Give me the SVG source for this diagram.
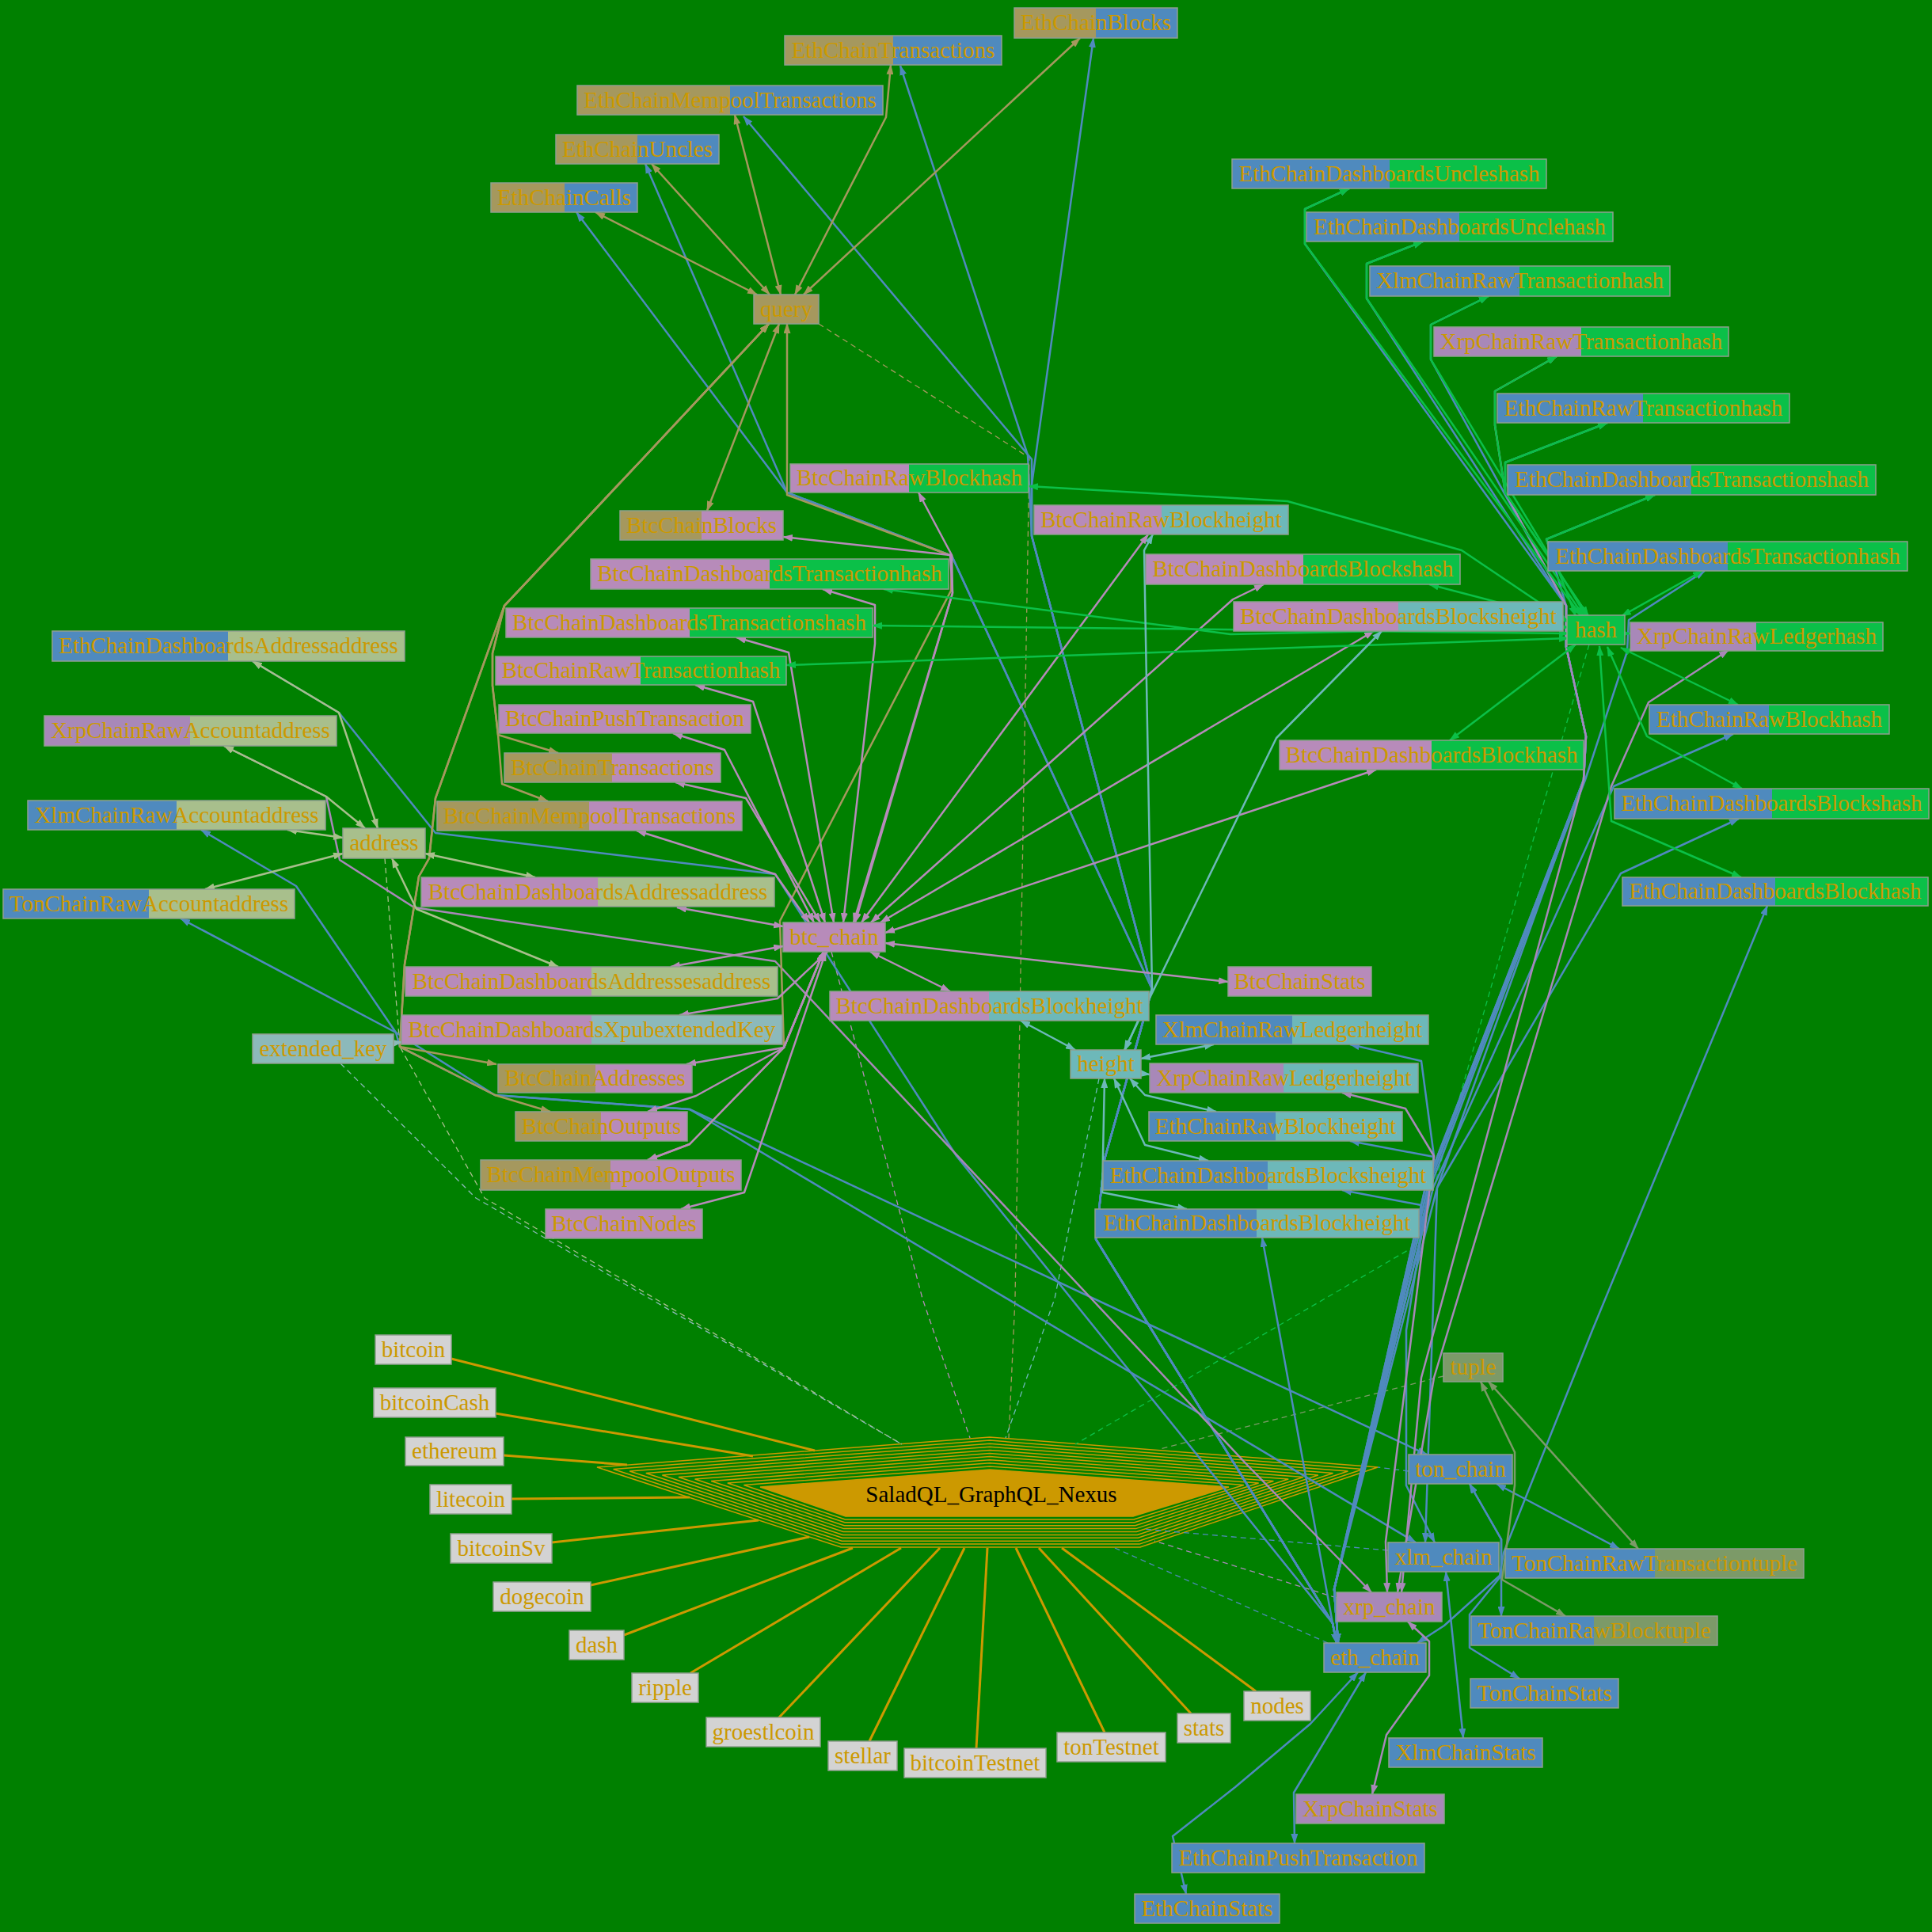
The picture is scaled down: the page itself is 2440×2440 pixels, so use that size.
<svg xmlns="http://www.w3.org/2000/svg" width="2440" height="2440" viewBox="0 0 2440 2440">
<defs>
<style>
.n text{font-family:"Liberation Serif","Times New Roman",serif;font-size:29px;fill:#CC9900;text-anchor:middle}
.n rect{stroke:#8f9f8f;stroke-width:1.5}
.hx text{font-family:"Liberation Serif","Times New Roman",serif;font-size:29px;fill:#000;text-anchor:middle}
.hx polygon{fill:none;stroke:#CC9900;stroke-width:1.5}
.hx polygon.core{fill:#CC9900}
.e path{fill:none;stroke-width:2.5;stroke-linejoin:round}
.tan{stroke:#A5985E;marker-start:url(#a-tan);marker-end:url(#a-tan)}
.blu{stroke:#4F8ABE;marker-start:url(#a-blu);marker-end:url(#a-blu)}
.btc{stroke:#B78BBA;marker-start:url(#a-btc);marker-end:url(#a-btc)}
.xrp{stroke:#A888B8;marker-start:url(#a-xrp);marker-end:url(#a-xrp)}
.grn{stroke:#0BC048;marker-start:url(#a-grn);marker-end:url(#a-grn)}
.tea{stroke:#6DB8B9;marker-start:url(#a-tea);marker-end:url(#a-tea)}
.adr{stroke:#A8BF8C;marker-start:url(#a-adr);marker-end:url(#a-adr)}
.xky{stroke:#8CB9BA;marker-start:url(#a-xky);marker-end:url(#a-xky)}
.tup{stroke:#7C9A68;marker-start:url(#a-tup);marker-end:url(#a-tup)}
.e path.one{marker-start:none}
.e path.d{stroke-width:1.3;stroke-dasharray:7 5;marker-start:none;marker-end:none}
.e path.lf{stroke:#CC9900;stroke-width:3;marker-start:none;marker-end:none}
</style>
<marker id="a-tan" viewBox="0 0 13 9" refX="12" refY="4.5" markerWidth="13" markerHeight="9" markerUnits="userSpaceOnUse" orient="auto-start-reverse"><path d="M0,0L13,4.5L0,9z" fill="#A5985E"/></marker>
<marker id="a-blu" viewBox="0 0 13 9" refX="12" refY="4.5" markerWidth="13" markerHeight="9" markerUnits="userSpaceOnUse" orient="auto-start-reverse"><path d="M0,0L13,4.5L0,9z" fill="#4F8ABE"/></marker>
<marker id="a-btc" viewBox="0 0 13 9" refX="12" refY="4.5" markerWidth="13" markerHeight="9" markerUnits="userSpaceOnUse" orient="auto-start-reverse"><path d="M0,0L13,4.5L0,9z" fill="#B78BBA"/></marker>
<marker id="a-xrp" viewBox="0 0 13 9" refX="12" refY="4.5" markerWidth="13" markerHeight="9" markerUnits="userSpaceOnUse" orient="auto-start-reverse"><path d="M0,0L13,4.5L0,9z" fill="#A888B8"/></marker>
<marker id="a-grn" viewBox="0 0 13 9" refX="12" refY="4.5" markerWidth="13" markerHeight="9" markerUnits="userSpaceOnUse" orient="auto-start-reverse"><path d="M0,0L13,4.5L0,9z" fill="#0BC048"/></marker>
<marker id="a-tea" viewBox="0 0 13 9" refX="12" refY="4.5" markerWidth="13" markerHeight="9" markerUnits="userSpaceOnUse" orient="auto-start-reverse"><path d="M0,0L13,4.5L0,9z" fill="#6DB8B9"/></marker>
<marker id="a-adr" viewBox="0 0 13 9" refX="12" refY="4.5" markerWidth="13" markerHeight="9" markerUnits="userSpaceOnUse" orient="auto-start-reverse"><path d="M0,0L13,4.5L0,9z" fill="#A8BF8C"/></marker>
<marker id="a-xky" viewBox="0 0 13 9" refX="12" refY="4.5" markerWidth="13" markerHeight="9" markerUnits="userSpaceOnUse" orient="auto-start-reverse"><path d="M0,0L13,4.5L0,9z" fill="#8CB9BA"/></marker>
<marker id="a-tup" viewBox="0 0 13 9" refX="12" refY="4.5" markerWidth="13" markerHeight="9" markerUnits="userSpaceOnUse" orient="auto-start-reverse"><path d="M0,0L13,4.5L0,9z" fill="#7C9A68"/></marker>
<linearGradient id="g-tan-blu"><stop offset="0.5" stop-color="#A5985E"/><stop offset="0.5" stop-color="#4F8ABE"/></linearGradient>
<linearGradient id="g-blu-grn"><stop offset="0.5" stop-color="#4F8ABE"/><stop offset="0.5" stop-color="#0BC048"/></linearGradient>
<linearGradient id="g-btc-grn"><stop offset="0.5" stop-color="#B78BBA"/><stop offset="0.5" stop-color="#0BC048"/></linearGradient>
<linearGradient id="g-xrp-grn"><stop offset="0.5" stop-color="#A888B8"/><stop offset="0.5" stop-color="#0BC048"/></linearGradient>
<linearGradient id="g-btc-tea"><stop offset="0.5" stop-color="#B78BBA"/><stop offset="0.5" stop-color="#6DB8B9"/></linearGradient>
<linearGradient id="g-blu-tea"><stop offset="0.5" stop-color="#4F8ABE"/><stop offset="0.5" stop-color="#6DB8B9"/></linearGradient>
<linearGradient id="g-xrp-tea"><stop offset="0.5" stop-color="#A888B8"/><stop offset="0.5" stop-color="#6DB8B9"/></linearGradient>
<linearGradient id="g-tan-btc"><stop offset="0.5" stop-color="#A5985E"/><stop offset="0.5" stop-color="#B78BBA"/></linearGradient>
<linearGradient id="g-btc-adr"><stop offset="0.5" stop-color="#B78BBA"/><stop offset="0.5" stop-color="#A8BF8C"/></linearGradient>
<linearGradient id="g-btc-xky"><stop offset="0.5" stop-color="#B78BBA"/><stop offset="0.5" stop-color="#8CB9BA"/></linearGradient>
<linearGradient id="g-blu-adr"><stop offset="0.5" stop-color="#4F8ABE"/><stop offset="0.5" stop-color="#A8BF8C"/></linearGradient>
<linearGradient id="g-xrp-adr"><stop offset="0.5" stop-color="#A888B8"/><stop offset="0.5" stop-color="#A8BF8C"/></linearGradient>
<linearGradient id="g-blu-tup"><stop offset="0.5" stop-color="#4F8ABE"/><stop offset="0.5" stop-color="#7C9A68"/></linearGradient>
</defs>
<rect x="0" y="0" width="2440" height="2440" fill="#008000"/>

<g id="SaladQL_GraphQL_Nexus" class="hx">
<polygon points="754,1853 1250,1815 1740,1853 1440,1954 1062,1954"/>
<polygon points="774.6,1855.5 1250,1819.1 1721.2,1855.5 1439.1,1950.1 1062.6,1950.1"/>
<polygon points="795.2,1858 1250,1823.2 1702.4,1858 1438.2,1946.2 1063.2,1946.2"/>
<polygon points="815.8,1860.5 1250,1827.3 1683.6,1860.5 1437.3,1942.3 1063.8,1942.3"/>
<polygon points="836.4,1863 1250,1831.4 1664.8,1863 1436.4,1938.4 1064.4,1938.4"/>
<polygon points="857,1865.5 1250,1835.5 1646,1865.5 1435.5,1934.5 1065,1934.5"/>
<polygon points="877.6,1868 1250,1839.6 1627.2,1868 1434.6,1930.6 1065.6,1930.6"/>
<polygon points="898.2,1870.5 1250,1843.7 1608.4,1870.5 1433.7,1926.7 1066.2,1926.7"/>
<polygon points="918.8,1873 1250,1847.8 1589.6,1873 1432.8,1922.8 1066.8,1922.8"/>
<polygon points="939.4,1875.5 1250,1851.9 1570.8,1875.5 1431.9,1918.9 1067.4,1918.9"/>
<polygon class="core" points="960,1878 1250,1856 1552,1878 1431,1915 1068,1915"/>
<text x="1252" y="1897">SaladQL_GraphQL_Nexus</text>
</g>

<g id="connectors" class="e">
<path class="lf" d="M570,1716L1029,1832"/>
<path class="lf" d="M626,1785L951,1839"/>
<path class="lf" d="M636,1838L792,1850"/>
<path class="lf" d="M646,1893L871,1891"/>
<path class="lf" d="M697,1948L958,1920"/>
<path class="lf" d="M746,2002L1022,1941"/>
<path class="lf" d="M788,2065L1077,1955"/>
<path class="lf" d="M872,2113L1138,1955"/>
<path class="lf" d="M983,2170L1187,1955"/>
<path class="lf" d="M1098,2199L1218,1955"/>
<path class="lf" d="M1233,2208L1247,1955"/>
<path class="lf" d="M1395,2188L1283,1955"/>
<path class="lf" d="M1504,2164L1312,1955"/>
<path class="lf" d="M1586,2136L1341,1955"/>
<path class="d tan" d="M1034,409L1300,578L1282,1640L1274,1816"/>
<path class="d adr" d="M486,1084L505,1322L612,1513L1139,1824"/>
<path class="d xky" d="M430,1343L601,1513L1139,1824"/>
<path class="d btc" d="M1050,1202L1165,1640L1225,1816"/>
<path class="d tea" d="M1388,1362L1332,1640L1270,1816"/>
<path class="d grn" d="M2007,814L1790,1572L1358,1824"/>
<path class="d tup" d="M1823,1738L1465,1830"/>
<path class="d blu" d="M1779,1858L1740,1853"/>
<path class="d blu" d="M1753,1958L1443,1931"/>
<path class="d xrp" d="M1688,2018L1458,1946"/>
<path class="d blu" d="M1688,2080L1408,1955"/>
<path class="blu" d="M728,268L994,622L1202,702L1455,1249L1395,1464L1384,1565L1683,2050L1688,2075"/>
<path class="blu" d="M815,207L994,622L1202,702L1455,1249L1395,1464L1384,1565L1683,2050L1688,2075"/>
<path class="blu" d="M939,147L1303,580L1303,677L1455,1249L1395,1464L1384,1565L1683,2050L1688,2075"/>
<path class="blu" d="M1137,83L1298,575L1303,677L1455,1249L1395,1464L1384,1565L1683,2050L1688,2075"/>
<path class="blu" d="M1381,48L1303,612L1303,677L1455,1249L1395,1464L1384,1565L1683,2050L1688,2075"/>
<path class="blu" d="M1704,238L1648,264L1648,308L1978,765L1978,817L2003,930L2000,985L1800,1500L1685,2007L1690,2075"/>
<path class="blu" d="M1797,305L1726,333L1726,377L1978,765L1978,817L2003,930L2000,985L1800,1500L1685,2007L1690,2075"/>
<path class="blu" d="M2030,534L1901,584L1901,622L1978,765L1978,817L2003,930L2000,985L1803,1500L1685,2007L1690,2075"/>
<path class="blu" d="M2090,625L1953,681L1978,765L1978,817L2003,930L2000,985L1803,1500L1685,2007L1690,2075"/>
<path class="blu" d="M2153,721L2057,783L2055,823L2002,985L1806,1500L1685,2007L1690,2075"/>
<path class="blu" d="M2189,927L2038,993L1810,1500L1685,2007L1690,2075"/>
<path class="blu" d="M2196,1034L2047,1103L1815,1500L1685,2007L1690,2075"/>
<path class="blu" d="M2232,1144L2011,1680L1899,1961L1894,1990L1824,2053L1790,2075"/>
<path class="blu" d="M1705,1441L1811,1461L1795,1560L1685,2007L1690,2075"/>
<path class="blu" d="M1695,1503L1795,1522L1794,1565L1685,2007L1690,2075"/>
<path class="blu" d="M1594,1563L1683,2050L1688,2075"/>
<path class="blu" d="M319,835L428,900L550,1052L979,1104L1208,1460L1683,2050L1688,2075"/>
<path class="blu" d="M1635,2328L1634,2264L1725,2112"/>
<path class="blu" d="M1498,2392L1481,2319L1560,2257L1655,2177L1715,2112"/>
<path class="blu" d="M254,1048L374,1119L500,1304L625,1383L871,1401L1788,1948"/>
<path class="blu" d="M1826,1985L1848,2195"/>
<path class="blu" d="M1705,1319L1795,1340L1811,1460L1776,1680L1776,1876L1812,1948"/>
<path class="blu" d="M1880,374L1807,410L1807,454L1978,765L1978,817L2003,930L2000,985L1815,1500L1800,1948"/>
<path class="blu" d="M1890,1874L2045,1956"/>
<path class="blu" d="M1856,1874L1896,1944L1896,1990L1856,2039L1856,2081L1919,2120"/>
<path class="blu" d="M1856,1874L1896,1944L1896,2041"/>
<path class="blu" d="M228,1160L500,1304L505,1322L625,1383L871,1401L1802,1837"/>
<path class="xrp" d="M283,942L412,1006L429,1086L523,1146L979,1214L1575,1850L1732,2011"/>
<path class="xrp" d="M1778,2048L1805,2073L1805,2116L1751,2191L1733,2266"/>
<path class="xrp" d="M1695,1380L1775,1400L1811,1460L1750,1947L1752,2011"/>
<path class="xrp" d="M2183,821L2082,887L2035,993L1811,1740L1765,2011"/>
<path class="xrp" d="M1966,450L1888,494L1888,537L1901,622L1978,765L1978,817L2003,930L2000,985L1795,1740L1770,2011"/>
<path class="tan" d="M752,268L956,372"/>
<path class="tan" d="M823,207L972,372"/>
<path class="tan" d="M928,145L986,372"/>
<path class="tan" d="M1125,82L1119,148L1004,372"/>
<path class="tan" d="M1364,48L1015,372"/>
<path class="tan" d="M893,645L984,409"/>
<path class="tan" d="M971,409L813,578L637,765L622,825L622,866L629,928L705,951"/>
<path class="tan" d="M971,409L813,578L637,765L622,825L622,866L629,928L634,990L692,1012"/>
<path class="tan" d="M971,409L813,578L637,765L550,1008L542,1084L529,1107L511,1218L505,1322L627,1344"/>
<path class="tan" d="M971,409L813,578L637,765L550,1008L542,1084L529,1107L511,1218L505,1322L625,1383L695,1404"/>
<path class="tan" d="M994,409L994,625L1202,702L1201,746L985,1163L990,1323L871,1445L818,1465"/>
<path class="btc" d="M1160,622L1202,701L1203,749L1080,1165"/>
<path class="btc" d="M989,678L1200,701L1203,749L1078,1165"/>
<path class="btc" d="M1039,744L1105,764L1105,813L1065,1165"/>
<path class="btc" d="M930,805L996,824L1053,1165"/>
<path class="btc" d="M878,865L951,886L1042,1165"/>
<path class="btc" d="M850,926L915,947L1028,1165"/>
<path class="btc" d="M853,988L942,1008L1036,1165"/>
<path class="btc" d="M804,1049L979,1104L1022,1165"/>
<path class="btc" d="M855,1146L989,1170"/>
<path class="btc" d="M847,1221L989,1195"/>
<path class="btc" d="M858,1282L982,1261L1045,1202"/>
<path class="btc" d="M867,1344L990,1323L1040,1202"/>
<path class="btc" d="M818,1404L879,1384L990,1323L1040,1202"/>
<path class="btc" d="M818,1465L871,1445L990,1323L1040,1202"/>
<path class="btc" d="M860,1527L940,1506L1043,1202"/>
<path class="btc" d="M1200,1252L1099,1202"/>
<path class="btc" d="M1551,1240L1118,1191"/>
<path class="btc" d="M1450,675L1088,1165"/>
<path class="btc" d="M1596,738L1557,757L1100,1165"/>
<path class="btc" d="M1735,797L1112,1165"/>
<path class="btc" d="M1738,972L1118,1178"/>
<path class="grn" d="M1704,238L1648,264L1648,308L1997,778"/>
<path class="grn" d="M1797,305L1726,333L1726,377L2000,778"/>
<path class="grn" d="M1880,374L1807,410L1807,454L2003,778"/>
<path class="grn" d="M1966,450L1888,494L1888,537L1901,622L2006,778"/>
<path class="grn" d="M2030,534L1901,584L1901,622L2006,778"/>
<path class="grn" d="M2090,625L1953,681L1990,778"/>
<path class="grn" d="M2150,721L2048,778"/>
<path class="grn one" d="M2046,800L2059,800"/>
<path class="grn" d="M2047,818L2195,890"/>
<path class="grn" d="M2030,817L2080,930L2200,996"/>
<path class="grn" d="M2020,816L2035,1037L2199,1108"/>
<path class="grn" d="M1990,814L1831,935"/>
<path class="grn" d="M1981,784L1805,738"/>
<path class="grn" d="M1299,614L1626,633L1846,695L1981,786"/>
<path class="grn" d="M1116,744L1554,801L1981,792"/>
<path class="grn" d="M1102,790L1981,800"/>
<path class="grn" d="M993,840L1981,806"/>
<path class="tea" d="M1456,675L1445,695L1455,1249L1421,1326"/>
<path class="tea" d="M1745,797L1612,932L1420,1326"/>
<path class="tea" d="M1289,1289L1358,1326"/>
<path class="tea" d="M1533,1319L1441,1337"/>
<path class="tea one" d="M1436,1355L1452,1357"/>
<path class="tea" d="M1536,1404L1446,1383L1427,1362"/>
<path class="tea" d="M1526,1466L1446,1446L1407,1362"/>
<path class="tea" d="M1499,1527L1392,1506L1395,1362"/>
<path class="adr" d="M319,835L428,900L477,1046"/>
<path class="adr" d="M283,942L412,1006L461,1046"/>
<path class="adr" d="M363,1048L433,1058"/>
<path class="adr" d="M259,1123L433,1078"/>
<path class="adr" d="M676,1108L537,1078"/>
<path class="adr" d="M705,1221L526,1148L495,1084"/>
<path class="xky one" d="M492,1318L508,1316"/>
<path class="tup" d="M1880,1745L2069,1956"/>
<path class="tup" d="M1870,1745L1913,1834L1913,1876L1897,1995L1977,2041"/>
</g>

<g id="nodes">
<g id="EthChainBlocks" class="n"><rect x="1281" y="10" width="206" height="38" fill="url(#g-tan-blu)"/><text x="1384" y="38">EthChainBlocks</text></g>
<g id="EthChainTransactions" class="n"><rect x="991" y="45" width="274" height="37" fill="url(#g-tan-blu)"/><text x="1128" y="72.5">EthChainTransactions</text></g>
<g id="EthChainMempoolTransactions" class="n"><rect x="729" y="108" width="386" height="37" fill="url(#g-tan-blu)"/><text x="922" y="135.5">EthChainMempoolTransactions</text></g>
<g id="EthChainUncles" class="n"><rect x="702" y="170" width="206" height="37" fill="url(#g-tan-blu)"/><text x="805" y="197.5">EthChainUncles</text></g>
<g id="EthChainCalls" class="n"><rect x="620" y="231" width="185" height="37" fill="url(#g-tan-blu)"/><text x="712.5" y="258.5">EthChainCalls</text></g>
<g id="query" class="n"><rect x="952" y="372" width="82" height="37" fill="#A5985E"/><text x="993" y="399.5">query</text></g>
<g id="EthChainDashboardsUncleshash" class="n"><rect x="1556" y="201" width="397" height="37" fill="url(#g-blu-grn)"/><text x="1754.5" y="228.5">EthChainDashboardsUncleshash</text></g>
<g id="EthChainDashboardsUnclehash" class="n"><rect x="1650" y="268" width="387" height="37" fill="url(#g-blu-grn)"/><text x="1843.5" y="295.5">EthChainDashboardsUnclehash</text></g>
<g id="XlmChainRawTransactionhash" class="n"><rect x="1730" y="336" width="379" height="38" fill="url(#g-blu-grn)"/><text x="1919.5" y="364">XlmChainRawTransactionhash</text></g>
<g id="XrpChainRawTransactionhash" class="n"><rect x="1811" y="413" width="372" height="37" fill="url(#g-xrp-grn)"/><text x="1997" y="440.5">XrpChainRawTransactionhash</text></g>
<g id="EthChainRawTransactionhash" class="n"><rect x="1891" y="497" width="369" height="37" fill="url(#g-blu-grn)"/><text x="2075.5" y="524.5">EthChainRawTransactionhash</text></g>
<g id="EthChainDashboardsTransactionshash" class="n"><rect x="1904" y="587" width="465" height="38" fill="url(#g-blu-grn)"/><text x="2136.5" y="615">EthChainDashboardsTransactionshash</text></g>
<g id="EthChainDashboardsTransactionhash" class="n"><rect x="1955" y="684" width="454" height="37" fill="url(#g-blu-grn)"/><text x="2182" y="711.5">EthChainDashboardsTransactionhash</text></g>
<g id="hash" class="n"><rect x="1979" y="777" width="73" height="37" fill="#0BC048"/><text x="2015.5" y="804.5">hash</text></g>
<g id="XrpChainRawLedgerhash" class="n"><rect x="2059" y="786" width="319" height="36" fill="url(#g-xrp-grn)"/><text x="2218.5" y="813">XrpChainRawLedgerhash</text></g>
<g id="EthChainRawBlockhash" class="n"><rect x="2083" y="890" width="303" height="37" fill="url(#g-blu-grn)"/><text x="2234.5" y="917.5">EthChainRawBlockhash</text></g>
<g id="EthChainDashboardsBlockshash" class="n"><rect x="2039" y="996" width="397" height="38" fill="url(#g-blu-grn)"/><text x="2237.5" y="1024">EthChainDashboardsBlockshash</text></g>
<g id="EthChainDashboardsBlockhash" class="n"><rect x="2049" y="1108" width="386" height="36" fill="url(#g-blu-grn)"/><text x="2242" y="1135">EthChainDashboardsBlockhash</text></g>
<g id="BtcChainDashboardsBlockshash" class="n"><rect x="1447" y="700" width="397" height="38" fill="url(#g-btc-grn)"/><text x="1645.5" y="728">BtcChainDashboardsBlockshash</text></g>
<g id="BtcChainDashboardsBlocksheight" class="n"><rect x="1558" y="760" width="416" height="37" fill="url(#g-btc-tea)"/><text x="1766" y="787.5">BtcChainDashboardsBlocksheight</text></g>
<g id="BtcChainDashboardsBlockhash" class="n"><rect x="1616" y="935" width="384" height="37" fill="url(#g-btc-grn)"/><text x="1808" y="962.5">BtcChainDashboardsBlockhash</text></g>
<g id="BtcChainStats" class="n"><rect x="1551" y="1221" width="181" height="37" fill="#B78BBA"/><text x="1641.5" y="1248.5">BtcChainStats</text></g>
<g id="XlmChainRawLedgerheight" class="n"><rect x="1460" y="1282" width="344" height="37" fill="url(#g-blu-tea)"/><text x="1632" y="1309.5">XlmChainRawLedgerheight</text></g>
<g id="height" class="n"><rect x="1352" y="1326" width="89" height="36" fill="#6DB8B9"/><text x="1396.5" y="1353">height</text></g>
<g id="XrpChainRawLedgerheight" class="n"><rect x="1452" y="1343" width="339" height="37" fill="url(#g-xrp-tea)"/><text x="1621.5" y="1370.5">XrpChainRawLedgerheight</text></g>
<g id="EthChainRawBlockheight" class="n"><rect x="1451" y="1404" width="320" height="37" fill="url(#g-blu-tea)"/><text x="1611" y="1431.5">EthChainRawBlockheight</text></g>
<g id="EthChainDashboardsBlocksheight" class="n"><rect x="1393" y="1466" width="417" height="37" fill="url(#g-blu-tea)"/><text x="1601.5" y="1493.5">EthChainDashboardsBlocksheight</text></g>
<g id="EthChainDashboardsBlockheight" class="n"><rect x="1383" y="1527" width="409" height="36" fill="url(#g-blu-tea)"/><text x="1587.5" y="1554">EthChainDashboardsBlockheight</text></g>
<g id="BtcChainRawBlockhash" class="n"><rect x="998" y="586" width="301" height="36" fill="url(#g-btc-grn)"/><text x="1148.5" y="613">BtcChainRawBlockhash</text></g>
<g id="BtcChainRawBlockheight" class="n"><rect x="1306" y="638" width="321" height="37" fill="url(#g-btc-tea)"/><text x="1466.5" y="665.5">BtcChainRawBlockheight</text></g>
<g id="BtcChainBlocks" class="n"><rect x="783" y="645" width="206" height="37" fill="url(#g-tan-btc)"/><text x="886" y="672.5">BtcChainBlocks</text></g>
<g id="BtcChainDashboardsTransactionhash" class="n"><rect x="746" y="706" width="452" height="38" fill="url(#g-btc-grn)"/><text x="972" y="734">BtcChainDashboardsTransactionhash</text></g>
<g id="BtcChainDashboardsTransactionshash" class="n"><rect x="639" y="768" width="463" height="37" fill="url(#g-btc-grn)"/><text x="870.5" y="795.5">BtcChainDashboardsTransactionshash</text></g>
<g id="BtcChainRawTransactionhash" class="n"><rect x="626" y="829" width="367" height="36" fill="url(#g-btc-grn)"/><text x="809.5" y="856">BtcChainRawTransactionhash</text></g>
<g id="BtcChainPushTransaction" class="n"><rect x="630" y="890" width="318" height="36" fill="#B78BBA"/><text x="789" y="917">BtcChainPushTransaction</text></g>
<g id="BtcChainTransactions" class="n"><rect x="637" y="951" width="273" height="37" fill="url(#g-tan-btc)"/><text x="773.5" y="978.5">BtcChainTransactions</text></g>
<g id="BtcChainMempoolTransactions" class="n"><rect x="552" y="1012" width="385" height="37" fill="url(#g-tan-btc)"/><text x="744.5" y="1039.5">BtcChainMempoolTransactions</text></g>
<g id="BtcChainDashboardsAddressaddress" class="n"><rect x="532" y="1108" width="446" height="37" fill="url(#g-btc-adr)"/><text x="755" y="1135.5">BtcChainDashboardsAddressaddress</text></g>
<g id="btc_chain" class="n"><rect x="989" y="1165" width="129" height="37" fill="#B78BBA"/><text x="1053.5" y="1192.5">btc_chain</text></g>
<g id="BtcChainDashboardsAddressesaddress" class="n"><rect x="512" y="1221" width="470" height="37" fill="url(#g-btc-adr)"/><text x="747" y="1248.5">BtcChainDashboardsAddressesaddress</text></g>
<g id="BtcChainDashboardsXpubextendedKey" class="n"><rect x="507" y="1282" width="481" height="37" fill="url(#g-btc-xky)"/><text x="747.5" y="1309.5">BtcChainDashboardsXpubextendedKey</text></g>
<g id="BtcChainAddresses" class="n"><rect x="629" y="1344" width="245" height="36" fill="url(#g-tan-btc)"/><text x="751.5" y="1371">BtcChainAddresses</text></g>
<g id="BtcChainOutputs" class="n"><rect x="651" y="1404" width="217" height="37" fill="url(#g-tan-btc)"/><text x="759.5" y="1431.5">BtcChainOutputs</text></g>
<g id="BtcChainMempoolOutputs" class="n"><rect x="607" y="1465" width="329" height="38" fill="url(#g-tan-btc)"/><text x="771.5" y="1493">BtcChainMempoolOutputs</text></g>
<g id="BtcChainNodes" class="n"><rect x="689" y="1527" width="198" height="37" fill="#B78BBA"/><text x="788" y="1554.5">BtcChainNodes</text></g>
<g id="BtcChainDashboardsBlockheight" class="n"><rect x="1048" y="1252" width="403" height="37" fill="url(#g-btc-tea)"/><text x="1249.5" y="1279.5">BtcChainDashboardsBlockheight</text></g>
<g id="EthChainDashboardsAddressaddress" class="n"><rect x="66" y="797" width="445" height="38" fill="url(#g-blu-adr)"/><text x="288.5" y="825">EthChainDashboardsAddressaddress</text></g>
<g id="XrpChainRawAccountaddress" class="n"><rect x="56" y="904" width="369" height="38" fill="url(#g-xrp-adr)"/><text x="240.5" y="932">XrpChainRawAccountaddress</text></g>
<g id="XlmChainRawAccountaddress" class="n"><rect x="35" y="1011" width="376" height="37" fill="url(#g-blu-adr)"/><text x="223" y="1038.5">XlmChainRawAccountaddress</text></g>
<g id="address" class="n"><rect x="433" y="1046" width="104" height="38" fill="#A8BF8C"/><text x="485" y="1074">address</text></g>
<g id="TonChainRawAccountaddress" class="n"><rect x="4" y="1123" width="368" height="37" fill="url(#g-blu-adr)"/><text x="188" y="1150.5">TonChainRawAccountaddress</text></g>
<g id="extended_key" class="n"><rect x="319" y="1306" width="178" height="37" fill="#8CB9BA"/><text x="408" y="1333.5">extended_key</text></g>
<g id="tuple" class="n"><rect x="1823" y="1709" width="75" height="36" fill="#7C9A68"/><text x="1860.5" y="1736">tuple</text></g>
<g id="ton_chain" class="n"><rect x="1779" y="1837" width="131" height="37" fill="#4F8ABE"/><text x="1844.5" y="1864.5">ton_chain</text></g>
<g id="xlm_chain" class="n"><rect x="1753" y="1948" width="140" height="37" fill="#4F8ABE"/><text x="1823" y="1975.5">xlm_chain</text></g>
<g id="TonChainRawTransactiontuple" class="n"><rect x="1901" y="1956" width="377" height="37" fill="url(#g-blu-tup)"/><text x="2089.5" y="1983.5">TonChainRawTransactiontuple</text></g>
<g id="xrp_chain" class="n"><rect x="1688" y="2011" width="133" height="37" fill="#A888B8"/><text x="1754.5" y="2038.5">xrp_chain</text></g>
<g id="eth_chain" class="n"><rect x="1672" y="2075" width="129" height="37" fill="#4F8ABE"/><text x="1736.5" y="2102.5">eth_chain</text></g>
<g id="TonChainRawBlocktuple" class="n"><rect x="1858" y="2041" width="311" height="37" fill="url(#g-blu-tup)"/><text x="2013.5" y="2068.5">TonChainRawBlocktuple</text></g>
<g id="TonChainStats" class="n"><rect x="1857" y="2120" width="187" height="37" fill="#4F8ABE"/><text x="1950.5" y="2147.5">TonChainStats</text></g>
<g id="XlmChainStats" class="n"><rect x="1754" y="2195" width="194" height="37" fill="#4F8ABE"/><text x="1851" y="2222.5">XlmChainStats</text></g>
<g id="XrpChainStats" class="n"><rect x="1637" y="2266" width="187" height="37" fill="#A888B8"/><text x="1730.5" y="2293.5">XrpChainStats</text></g>
<g id="EthChainPushTransaction" class="n"><rect x="1480" y="2328" width="319" height="37" fill="#4F8ABE"/><text x="1639.5" y="2355.5">EthChainPushTransaction</text></g>
<g id="EthChainStats" class="n"><rect x="1433" y="2392" width="183" height="37" fill="#4F8ABE"/><text x="1524.5" y="2419.5">EthChainStats</text></g>
<g id="bitcoin" class="n"><rect x="474" y="1686" width="96" height="37" fill="#D3D3D3"/><text x="522" y="1713.5">bitcoin</text></g>
<g id="bitcoinCash" class="n"><rect x="472" y="1753" width="154" height="37" fill="#D3D3D3"/><text x="549" y="1780.5">bitcoinCash</text></g>
<g id="ethereum" class="n"><rect x="512" y="1815" width="124" height="36" fill="#D3D3D3"/><text x="574" y="1842">ethereum</text></g>
<g id="litecoin" class="n"><rect x="543" y="1875" width="103" height="37" fill="#D3D3D3"/><text x="594.5" y="1902.5">litecoin</text></g>
<g id="bitcoinSv" class="n"><rect x="569" y="1937" width="128" height="37" fill="#D3D3D3"/><text x="633" y="1964.5">bitcoinSv</text></g>
<g id="dogecoin" class="n"><rect x="623" y="1998" width="123" height="37" fill="#D3D3D3"/><text x="684.5" y="2025.5">dogecoin</text></g>
<g id="dash" class="n"><rect x="719" y="2059" width="69" height="37" fill="#D3D3D3"/><text x="753.5" y="2086.5">dash</text></g>
<g id="ripple" class="n"><rect x="798" y="2113" width="84" height="37" fill="#D3D3D3"/><text x="840" y="2140.5">ripple</text></g>
<g id="groestlcoin" class="n"><rect x="892" y="2169" width="144" height="37" fill="#D3D3D3"/><text x="964" y="2196.5">groestlcoin</text></g>
<g id="stellar" class="n"><rect x="1046" y="2199" width="87" height="37" fill="#D3D3D3"/><text x="1089.5" y="2226.5">stellar</text></g>
<g id="bitcoinTestnet" class="n"><rect x="1142" y="2208" width="179" height="37" fill="#D3D3D3"/><text x="1231.5" y="2235.5">bitcoinTestnet</text></g>
<g id="tonTestnet" class="n"><rect x="1335" y="2188" width="137" height="37" fill="#D3D3D3"/><text x="1403.5" y="2215.5">tonTestnet</text></g>
<g id="stats" class="n"><rect x="1487" y="2164" width="67" height="37" fill="#D3D3D3"/><text x="1520.5" y="2191.5">stats</text></g>
<g id="nodes" class="n"><rect x="1571" y="2136" width="84" height="37" fill="#D3D3D3"/><text x="1613" y="2163.5">nodes</text></g>
</g>
</svg>
